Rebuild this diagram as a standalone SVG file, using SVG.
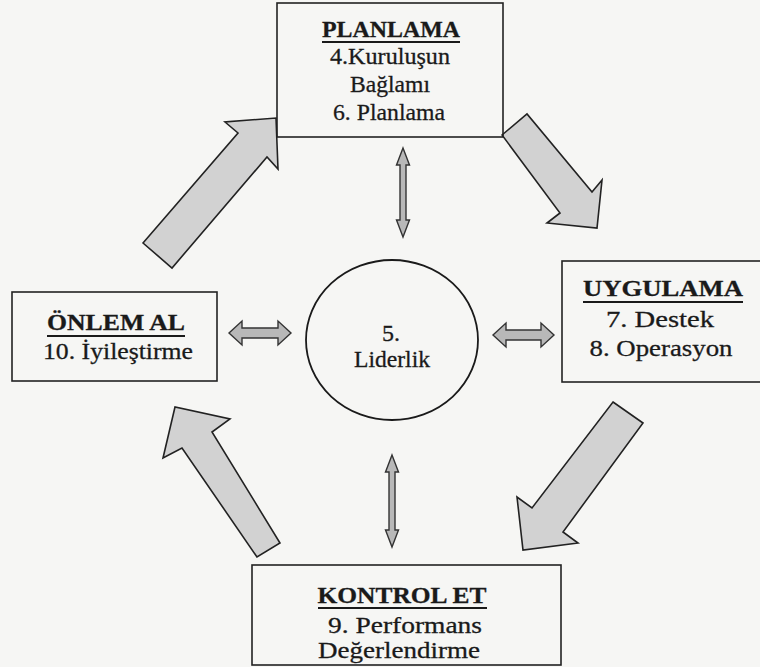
<svg xmlns="http://www.w3.org/2000/svg" width="760" height="667" viewBox="0 0 760 667">
<style>
.box{fill:none;stroke:#222;stroke-width:1.6}
.t{font-family:"Liberation Serif","Times New Roman",serif;font-size:24px;fill:#1a1a1a;stroke:#1a1a1a;stroke-width:0.3;text-anchor:middle}
.b{font-weight:bold}
.ul{stroke:#1a1a1a;stroke-width:2}
.big{fill:#d2d2d2;stroke:#222;stroke-width:1.6;stroke-linejoin:miter}
.dbl{fill:#b8b8b8;stroke:#333;stroke-width:1.4}
</style>
<rect x="0" y="0" width="760" height="667" fill="#f6f6f4"/>
<g id="connectors">
<polygon class="big" points="143,243 238,133 225,122 276,118 278,169 267,157 172,268"/>
<polygon class="big" points="502,135 527,114 592,192 602,180 597,228 547,223 560,213"/>
<polygon class="big" points="613,402 643,423 563,532 578,543 523,550 517,497 532,508"/>
<polygon class="big" points="257,557 182,448 163,458 175,407 230,419 212,432 280,543"/>
<polygon class="dbl" points="229,333 242,321 242,328 278,328 278,321 291,333 278,345 278,338 242,338 242,345"/>
<polygon class="dbl" points="493,335 506,323 506,330 541,330 541,323 554,335 541,347 541,340 506,340 506,347"/>
<polygon class="dbl" points="403,148 409.5,165 406,165 406,220 409.5,220 403,237 396.5,220 400,220 400,165 396.5,165"/>
<polygon class="dbl" points="392,455 398.5,472 395,472 395,530 398.5,530 392,547 385.5,530 389,530 389,472 385.5,472"/>
</g>
<g id="planlama">
<rect class="box" x="277" y="3" width="226" height="134"/>
<text class="t b" x="391" y="37" textLength="138" lengthAdjust="spacingAndGlyphs">PLANLAMA</text>
<line class="ul" x1="322" y1="42" x2="460" y2="42"/>
<text class="t" x="390" y="64" textLength="120" lengthAdjust="spacingAndGlyphs">4.Kuruluşun</text>
<text class="t" x="390" y="92" textLength="80" lengthAdjust="spacingAndGlyphs">Bağlamı</text>
<text class="t" x="389" y="120" textLength="112" lengthAdjust="spacingAndGlyphs">6. Planlama</text>
</g>
<g id="onlem-al">
<rect class="box" x="12" y="292" width="205" height="89"/>
<text class="t b" x="116" y="330" textLength="138" lengthAdjust="spacingAndGlyphs">ÖNLEM AL</text>
<line class="ul" x1="47" y1="336" x2="185" y2="336"/>
<text class="t" x="118" y="359" textLength="150" lengthAdjust="spacingAndGlyphs">10. İyileştirme</text>
</g>
<g id="uygulama">
<rect class="box" x="562" y="261" width="205" height="121"/>
<text class="t b" x="663" y="296" textLength="160" lengthAdjust="spacingAndGlyphs">UYGULAMA</text>
<line class="ul" x1="583" y1="302" x2="743" y2="302"/>
<text class="t" x="660" y="327" textLength="108" lengthAdjust="spacingAndGlyphs">7. Destek</text>
<text class="t" x="661" y="356" textLength="143" lengthAdjust="spacingAndGlyphs">8. Operasyon</text>
</g>
<g id="kontrol-et">
<rect class="box" x="252" y="565" width="309" height="100"/>
<text class="t b" x="402" y="603" textLength="169" lengthAdjust="spacingAndGlyphs">KONTROL ET</text>
<line class="ul" x1="318" y1="608" x2="487" y2="608"/>
<text class="t" x="405" y="633" textLength="154" lengthAdjust="spacingAndGlyphs">9. Performans</text>
<text class="t" x="399" y="658" textLength="162" lengthAdjust="spacingAndGlyphs">Değerlendirme</text>
</g>
<g id="liderlik">
<ellipse cx="392" cy="340" rx="86" ry="80" fill="none" stroke="#1a1a1a" stroke-width="1.8"/>
<text class="t" x="391" y="341">5.</text>
<text class="t" x="392" y="367" textLength="76" lengthAdjust="spacingAndGlyphs">Liderlik</text>
</g>
</svg>
